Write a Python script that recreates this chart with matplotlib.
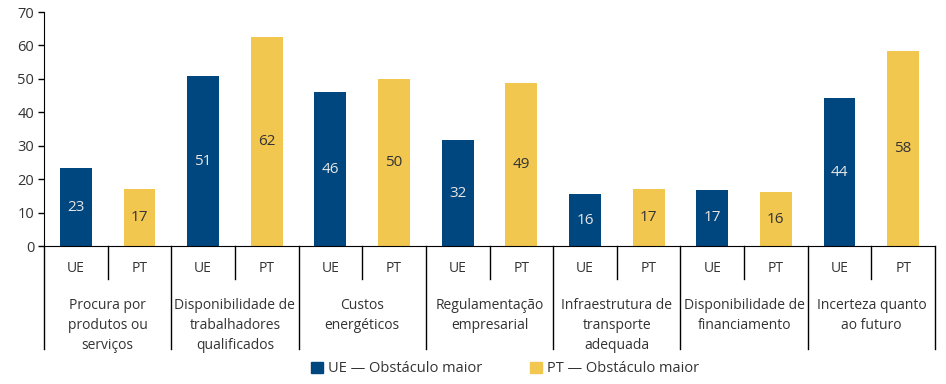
import matplotlib
matplotlib.use("Agg")
import matplotlib.pyplot as plt
from matplotlib.patches import Patch
from matplotlib import font_manager as fm

names = {f.name for f in fm.fontManager.ttflist}

categories = ["Procura por\nprodutos ou\nserviços",
              "Disponibilidade de\ntrabalhadores\nqualificados",
              "Custos\nenergéticos",
              "Regulamentação\nempresarial",
              "Infraestrutura de\ntransporte\nadequada",
              "Disponibilidade de\nfinanciamento",
              "Incerteza quanto\nao futuro"]
series_names = ["UE", "PT"]
ue_values = [23.3, 50.8, 46.0, 31.6, 15.5, 16.9, 44.2]
pt_values = [17.1, 62.4, 49.9, 48.7, 17.2, 16.1, 58.4]
legend_labels = ["UE — Obstáculo maior", "PT — Obstáculo maior"]
yticks = [0, 10, 20, 30, 40, 50, 60, 70]

BLUE = "#00467F"
YELLOW = "#F2C750"
FONT = "Open Sans"
narrow = "Liberation Sans Narrow" if "Liberation Sans Narrow" in names else FONT
TXT = "#333333"

plt.rcParams['font.family'] = [FONT, 'DejaVu Sans']

fig = plt.figure(figsize=(9.46, 3.84), dpi=100)
W, H = 946, 384
ax_left, ax_right, ax_top, ax_bot = 44, 935, 12, 246
ax = fig.add_axes([ax_left / W, 1 - ax_bot / H, (ax_right - ax_left) / W, (ax_bot - ax_top) / H])

n = len(categories)
for i in range(n):
    for j, (vals, col, tcol) in enumerate([(ue_values, BLUE, "#E6E6E6"), (pt_values, YELLOW, TXT)]):
        x = 2 * i + j
        v = vals[i]
        ax.bar(x, v, width=0.5, color=col)
        ax.text(x, v / 2, f"{round(v):d}", ha="center", va="center", color=tcol, fontsize=11)

ax.set_xlim(-0.5, 2 * n - 0.5)
ax.set_ylim(0, 70)
ax.set_yticks(yticks)
ax.tick_params(axis="y", labelsize=10.5, colors="black", length=4, width=1, pad=3)
for lab in ax.get_yticklabels():
    lab.set_color(TXT)
ax.set_xticks([])
for s in ["top", "right"]:
    ax.spines[s].set_visible(False)
ax.spines["left"].set_color("black")
ax.spines["bottom"].set_color("black")

tr = ax.get_xaxis_transform()
axh = ax_bot - ax_top
def ypx(px):
    return -px / axh

for i in range(n + 1):
    x = 2 * i - 0.5
    ax.plot([x, x], [0, ypx(103)], transform=tr, color="black", lw=1, clip_on=False)
for i in range(n):
    x = 2 * i + 0.5
    ax.plot([x, x], [0, ypx(33)], transform=tr, color="black", lw=1, clip_on=False)
    for j, s in enumerate(series_names):
        ax.text(2 * i + j, ypx(22), s, transform=tr, ha="center", va="center", fontsize=10, color=TXT)
    ax.text(2 * i + 0.5, ypx(52), categories[i], transform=tr, ha="center", va="top",
            fontsize=10, color=TXT, linespacing=1.45)

handles = [Patch(color=BLUE), Patch(color=YELLOW)]
fig.legend(handles, legend_labels, loc="center", bbox_to_anchor=(0.534, 1 - 369 / H), ncol=2,
           frameon=False, prop={"family": narrow, "size": 10.5}, handlelength=0.82, handleheight=0.82,
           handletextpad=0.35, columnspacing=3.3, labelcolor=TXT, borderpad=0, borderaxespad=0)

fig.savefig("out.png", dpi=100)
